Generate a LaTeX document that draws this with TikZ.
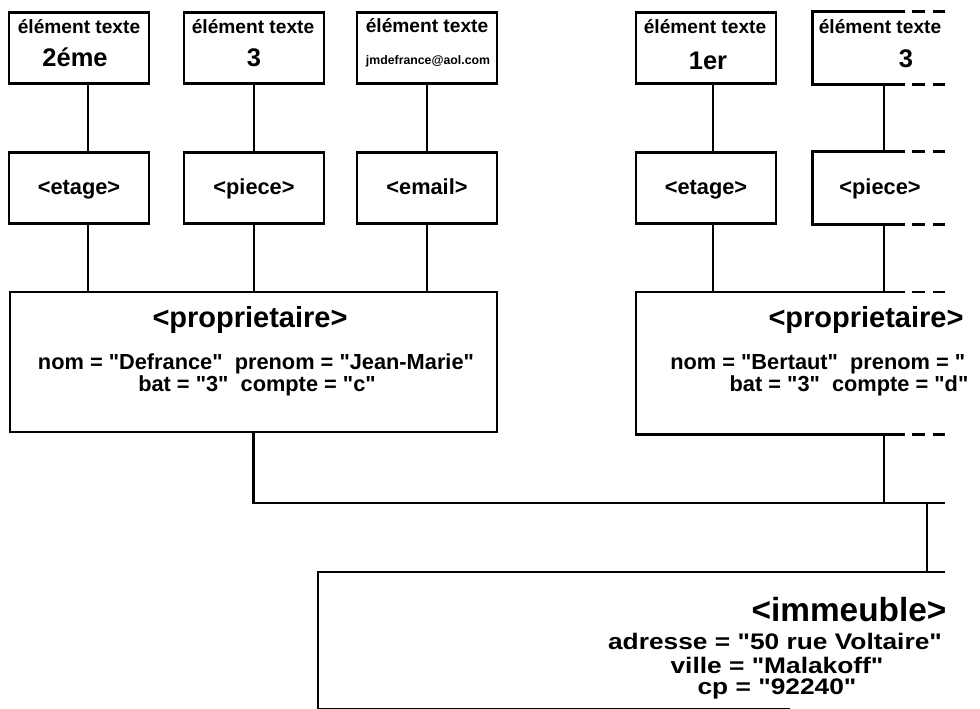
\documentclass[tikz,border=0pt]{standalone}
\usepackage{fontspec}
\setmainfont{Liberation Sans}[Ligatures=TeXOff]
\newfontfamily\policeadr{Liberation Sans}[Ligatures=TeXOff, FakeStretch=1.17]

\begin{document}
\begin{tikzpicture}[x=0.02cm, y=-0.02cm,
		boite/.style={draw, line width=1.6pt, minimum width=2.8cm, minimum height=1.42cm, inner sep=0pt},
		grand/.style={draw, line width=1.6pt, minimum width=9.74cm, minimum height=2.8cm, inner sep=0pt},
		trait/.style={line width=1.6pt},
		suite/.style={line width=1.6pt, dash pattern=on 0.26cm off 0.16cm},
		etiq/.style={font=\bfseries\fontsize{10.9}{13}\selectfont, inner sep=0pt},
		valeur/.style={font=\bfseries\fontsize{14.5}{17}\selectfont, inner sep=0pt},
		mail/.style={font=\bfseries\fontsize{7}{8}\selectfont, inner sep=0pt},
		balise/.style={font=\bfseries\fontsize{12.4}{15}\selectfont, text height=0.9em, text depth=0.2em},
		titre/.style={font=\bfseries\fontsize{16.5}{20}\selectfont, inner sep=0pt},
		grandtitre/.style={font=\bfseries\fontsize{19}{23}\selectfont, inner sep=0pt},
		attr/.style={font=\bfseries\fontsize{12.4}{15}\selectfont, inner sep=0pt},
		adr/.style={font=\policeadr\bfseries\fontsize{12.8}{15}\selectfont, inner sep=0pt},
		]
		\useasboundingbox (0,0) rectangle (980,709);
		\clip (0,0) rectangle (970,709);

		\coordinate (coupe) at (905,0);
		\coordinate (tiret1) at (912,0);
		\coordinate (tiret2) at (945,0);

		% elements texte
		\node[boite] (T1) at (79,48) {};
		\node[boite] (T2) at (254,48) {};
		\node[boite] (T3) at (427,48) {};
		\node[boite] (T4) at (706,48) {};
		\node[boite, draw=none] (T5) at (884,48) {};
		\node[etiq] (L1) at (79,27) {élément texte};
		\node[etiq] (L2) at (253,27) {élément texte};
		\node[etiq] (L3) at (427,26) {élément texte};
		\node[etiq] (L4) at (705,27) {élément texte};
		\node[etiq] (L5) at (880,27) {élément texte};
		\node[valeur] (V1) at (75,57) {2éme};
		\node[valeur] (V2) at (254,58) {3};
		\node[mail] (V3) at (428,61) {jmdefrance@aol.com};
		\node[valeur] (V4) at (708,61) {1er};
		\node[valeur] (V5) at (906,59) {3};

		% balises
		\node[boite, balise] (E1) at (79,188) {<etage>};
		\node[boite, balise] (E2) at (254,188) {<piece>};
		\node[boite, balise] (E3) at (427,188) {<email>};
		\node[boite, balise] (E4) at (706,188) {<etage>};
		\node[boite, draw=none] (E5) at (884,188) {};
		\node[balise, inner sep=0pt] (E5t) at (880,188) {<piece>};

		% proprietaires
		\node[grand] (P1) at (253.5,362) {};
		\node[titre] (P1t) at (250,320) {<proprietaire>};
		\node[attr] (P1a) at (256,364) {nom = "Defrance"\ \ prenom = "Jean-Marie"};
		\node[attr] (P1b) at (257,386) {bat = "3"\ \ compte = "c"};
		\node[grand, draw=none, anchor=north west] (Q) at (636,292) {};
		\node[titre] (Qt) at (866,320) {<proprietaire>};
		\node[attr, anchor=west] (Qa) at (670,364) {nom = "Bertaut"\ \ prenom = "};
		\node[attr] (Qb) at (849,386) {bat = "3"\ \ compte = "d"};

		% immeuble
		\node[anchor=north west, minimum width=12.54cm, minimum height=2.73cm, inner sep=0pt] (I) at (318,572) {};
		\node[grandtitre] (I0) at (849,610) {<immeuble>};
		\node[adr] (I1) at (775,641) {adresse = "50 rue Voltaire"};
		\node[adr] (I2) at (777,665) {ville = "Malakoff"};
		\node[adr] (I3) at (777,689) {cp = "92240"};

		% cadres ouverts a droite
		\draw[trait] (T5.north west -| coupe) -- (T5.north west) -- (T5.south west) -- (T5.south west -| coupe);
		\draw[suite] (T5.north -| tiret1) -- (T5.north -| tiret2);
		\draw[suite] (T5.south -| tiret1) -- (T5.south -| tiret2);
		\draw[trait] (E5.north west -| coupe) -- (E5.north west) -- (E5.south west) -- (E5.south west -| coupe);
		\draw[suite] (E5.north -| tiret1) -- (E5.north -| tiret2);
		\draw[suite] (E5.south -| tiret1) -- (E5.south -| tiret2);
		\draw[trait] (Q.north west -| coupe) -- (Q.north west) -- (Q.south west) -- (Q.south west -| coupe);
		\draw[suite] (Q.north -| tiret1) -- (Q.north -| tiret2);
		\draw[suite] (Q.south -| tiret1) -- (Q.south -| tiret2);
		\draw[trait] (I.north west -| tiret2) -- (I.north west) -- (I.south west) -- ++(472,0);

		% liens
		\coordinate (x1) at ([xshift=0.18cm]E1.south);
		\coordinate (x4) at ([xshift=0.14cm]E4.south);
		\draw[trait] (T1.south -| x1) -- (E1.north -| x1);
		\draw[trait] (x1) -- (P1.north -| x1);
		\draw[trait] (T2.south) -- (E2.north);
		\draw[trait] (E2.south) -- (P1.north -| E2.south);
		\draw[trait] (T3.south) -- (E3.north);
		\draw[trait] (E3.south) -- (P1.north -| E3.south);
		\draw[trait] (T4.south -| x4) -- (E4.north -| x4);
		\draw[trait] (x4) -- (Q.north -| x4);
		\draw[trait] (T5.south) -- (E5.north);
		\draw[trait] (E5.south) -- (Q.north -| E5.south);

		\coordinate (bus) at (945,503);
		\coordinate (descente) at (927,503);
		\draw[trait] (P1.south) |- (bus);
		\draw[trait] (Q.south -| E5.south) -- (bus -| E5.south);
		\draw[trait] (descente) -- (descente |- I.north);
\end{tikzpicture}
\end{document}
